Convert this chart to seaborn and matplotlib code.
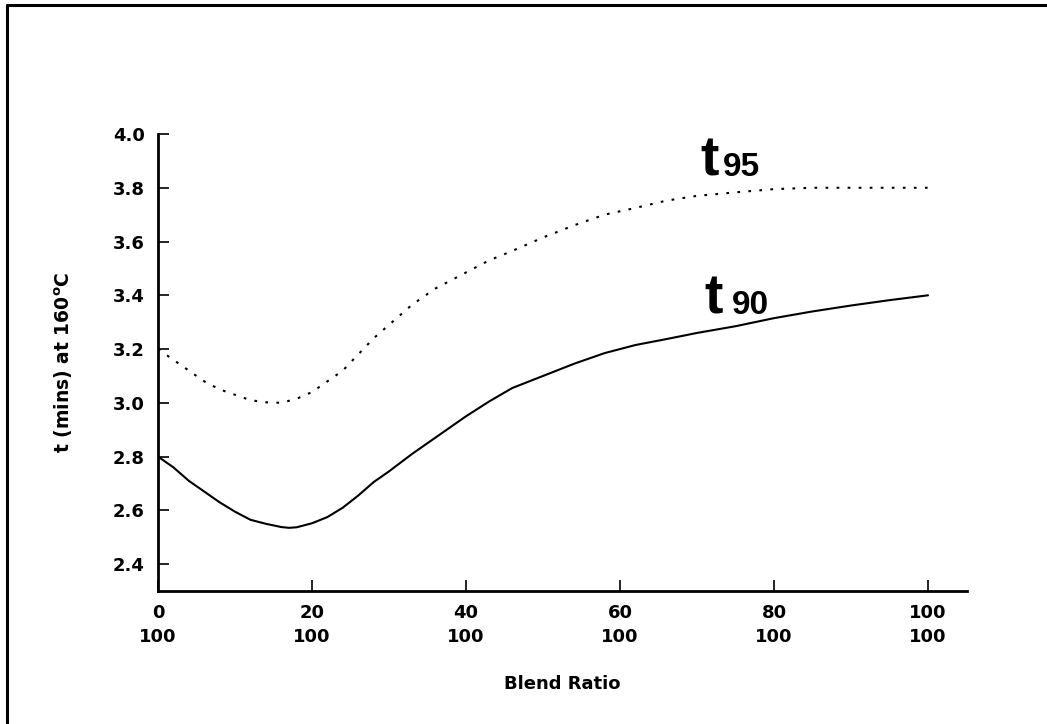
import matplotlib
matplotlib.use("Agg")
import matplotlib.pyplot as plt
from matplotlib.lines import Line2D
import seaborn as sns
import pandas as pd

# Data
blend90 = [0, 2, 4, 6, 8, 10, 12, 14, 16, 17, 18, 20, 22, 24, 26, 28, 30, 33, 36, 40,
           43, 46, 50, 54, 58, 62, 66, 70, 75, 80, 85, 90, 95, 100]
t90 = [2.80, 2.76, 2.71, 2.67, 2.63, 2.595, 2.565, 2.55, 2.538, 2.535, 2.537, 2.552,
       2.575, 2.61, 2.655, 2.705, 2.745, 2.81, 2.87, 2.95, 3.005, 3.055, 3.10, 3.145,
       3.185, 3.215, 3.237, 3.26, 3.285, 3.315, 3.34, 3.362, 3.382, 3.40]
blend95 = [0, 2, 4, 6, 8, 10, 12, 14, 16, 18, 20, 22, 24, 26, 28, 30, 33, 36, 40,
           43, 46, 50, 54, 58, 62, 66, 70, 75, 80, 85, 90, 95, 100]
t95 = [3.20, 3.16, 3.12, 3.08, 3.05, 3.03, 3.01, 3.002, 3.0, 3.015, 3.04, 3.08, 3.12,
       3.18, 3.24, 3.29, 3.365, 3.425, 3.485, 3.53, 3.565, 3.615, 3.66, 3.70, 3.725,
       3.752, 3.77, 3.783, 3.795, 3.80, 3.80, 3.80, 3.80]
xticks = [0, 20, 40, 60, 80, 100]
xticklabels = ["0\n100", "20\n100", "40\n100", "60\n100", "80\n100", "100\n100"]
yticks = [2.4, 2.6, 2.8, 3.0, 3.2, 3.4, 3.6, 3.8, 4.0]

df = pd.DataFrame({
    "blend": blend90 + blend95,
    "t": t90 + t95,
    "curve": ["t90"] * len(blend90) + ["t95"] * len(blend95),
})

sns.set_theme(style="white")
plt.rcParams["font.family"] = ["DejaVu Sans"]
plt.rcParams["font.weight"] = "bold"
plt.rcParams["text.color"] = "black"
plt.rcParams["axes.labelcolor"] = "black"
plt.rcParams["xtick.color"] = "black"
plt.rcParams["ytick.color"] = "black"

fig = plt.figure(figsize=(10.47, 7.24), dpi=100)
ax = fig.add_axes([0.1509, 0.1837, 0.9236 - 0.1509, 0.8149 - 0.1837])

sns.lineplot(data=df, x="blend", y="t", style="curve",
             dashes={"t90": "", "t95": (1.3, 4)},
             color="black", linewidth=1.5, legend=False, ax=ax, sort=True)

ax.set_xlim(0, 105.06)
ax.set_ylim(2.3, 4.0)
ax.set_xticks(xticks)
ax.set_xticklabels(xticklabels, fontsize=13, fontweight="bold", linespacing=1.45)
ax.set_yticks(yticks)
ax.set_yticklabels([f"{v:.1f}" for v in yticks], fontsize=13, fontweight="bold")
ax.tick_params(axis="both", direction="in", length=8, width=1.2, colors="black",
               bottom=True, left=True)
ax.tick_params(axis="x", pad=9)
ax.tick_params(axis="y", pad=9.5)

for s in ["top", "right"]:
    ax.spines[s].set_visible(False)
for s in ["left", "bottom"]:
    ax.spines[s].set_color("black")
    ax.spines[s].set_linewidth(2)

ax.set_xlabel("Blend Ratio", fontsize=13, fontweight="bold")
ax.set_ylabel("t (mins) at 160$^{\\mathbf{o}}$C", fontsize=13.5, fontweight="bold")
ax.yaxis.set_label_coords(-0.1026, 0.5)
ax.xaxis.set_label_coords(0.5, -0.184)

lab_font = ["Liberation Sans", "DejaVu Sans"]
ax.text(70.4, 3.845, "t", fontsize=40, fontweight="bold", va="baseline", ha="left",
        family=lab_font)
ax.text(73.4, 3.845, "95", fontsize=24, fontweight="bold", va="baseline", ha="left",
        family=lab_font)
ax.text(71.0, 3.332, "t", fontsize=40, fontweight="bold", va="baseline", ha="left",
        family=lab_font)
ax.text(74.5, 3.332, "90", fontsize=24, fontweight="bold", va="baseline", ha="left",
        family=lab_font)

# figure frame on top and left, as in the reference
fig.add_artist(Line2D([0.0066, 1.0], [0.993, 0.993], transform=fig.transFigure,
                      color="black", linewidth=2.2))
fig.add_artist(Line2D([0.0066, 0.0066], [0.0, 0.993], transform=fig.transFigure,
                      color="black", linewidth=2.2))

fig.savefig("out.png", dpi=100, facecolor="white")
